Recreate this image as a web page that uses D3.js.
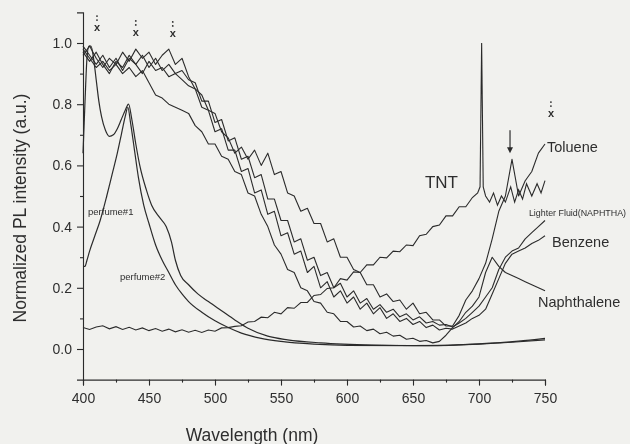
<!DOCTYPE html>
<html>
<head>
<meta charset="utf-8">
<script src="https://cdn.jsdelivr.net/npm/d3@7"></script>
<style>
body { margin: 0; background: #f1f1ee; }
svg { display: block; }
text { font-family: "Liberation Sans", Arial, sans-serif; fill: #2e2e2e; }
</style>
</head>
<body>
<svg width="630" height="444"></svg>
<script>
// wavelength grid shared by the four noisy liquid spectra
const wl = [400,405,410,415,420,425,430,435,440,445,450,455,460,465,470,475,480,485,490,495,
    500,505,510,515,520,525,530,535,540,545,550,555,560,565,570,575,580,585,590,595,
    600,605,610,615,620,625,630,635,640,645,650,655,660,665,670,675,680,685,690,695,
    700,705,710,715,720,725,730,735,740,745,750];

const toluene = [0.96,0.99,0.95,0.92,0.95,0.93,0.97,0.94,0.98,0.95,
    0.97,0.93,0.96,0.98,0.93,0.95,0.89,0.85,0.83,0.78,
    0.77,0.71,0.69,0.64,0.66,0.62,0.65,0.60,0.64,0.57,
    0.58,0.51,0.50,0.45,0.46,0.41,0.41,0.35,0.36,0.30,
    0.30,0.26,0.25,0.21,0.21,0.17,0.18,0.155,0.16,0.13,
    0.15,0.115,0.12,0.095,0.095,0.075,0.075,0.11,0.16,0.19,
    0.23,0.28,0.36,0.45,0.50,0.62,0.50,0.55,0.58,0.64,
    0.67];

const lighterFluid = [0.99,0.96,0.93,0.96,0.92,0.95,0.91,0.95,0.93,0.96,
    0.92,0.95,0.91,0.93,0.90,0.91,0.88,0.87,0.81,0.81,
    0.74,0.75,0.68,0.69,0.62,0.63,0.56,0.57,0.49,0.49,
    0.42,0.42,0.35,0.36,0.29,0.30,0.24,0.25,0.20,0.215,
    0.17,0.19,0.15,0.165,0.13,0.145,0.12,0.13,0.105,0.115,
    0.095,0.105,0.085,0.09,0.078,0.08,0.072,0.085,0.10,0.12,
    0.14,0.17,0.20,0.26,0.30,0.32,0.33,0.36,0.38,0.40,
    0.42];

const benzene = [0.97,0.94,0.97,0.93,0.90,0.94,0.92,0.96,0.93,0.90,
    0.94,0.91,0.92,0.89,0.90,0.88,0.86,0.85,0.79,0.78,
    0.71,0.72,0.65,0.65,0.58,0.59,0.51,0.52,0.44,0.45,
    0.37,0.38,0.31,0.32,0.25,0.27,0.20,0.22,0.17,0.19,
    0.15,0.17,0.13,0.15,0.115,0.135,0.10,0.115,0.09,0.10,
    0.08,0.09,0.07,0.078,0.062,0.068,0.065,0.075,0.085,0.10,
    0.11,0.13,0.18,0.23,0.28,0.31,0.32,0.33,0.345,0.355,
    0.37];

const naphthalene = [0.98,0.95,0.92,0.94,0.91,0.93,0.90,0.92,0.89,0.91,
    0.87,0.83,0.82,0.80,0.79,0.78,0.77,0.73,0.71,0.67,
    0.67,0.63,0.62,0.58,0.57,0.51,0.50,0.44,0.40,0.34,
    0.31,0.26,0.25,0.20,0.19,0.155,0.15,0.12,0.115,0.09,
    0.09,0.072,0.075,0.06,0.065,0.05,0.055,0.042,0.045,0.032,
    0.035,0.025,0.028,0.02,0.025,0.045,0.07,0.09,0.12,0.14,
    0.17,0.25,0.30,0.27,0.25,0.24,0.23,0.22,0.21,0.20,
    0.19];

// TNT has its own grid because of the narrow line near 702 nm
const tntWl = [400,405,410,415,420,425,430,435,440,445,450,455,460,465,470,475,480,485,490,495,
    500,505,510,515,520,525,530,535,540,545,550,555,560,565,570,575,580,585,590,595,
    600,605,610,615,620,625,630,635,640,645,650,655,660,665,670,675,680,685,690,695,
    699,700.8,702,703.2,705,708,711,714,717,720,724,727,730,733,736,740,744,747,750];
const tnt = [0.07,0.064,0.072,0.076,0.066,0.073,0.064,0.071,0.062,0.069,
    0.06,0.067,0.058,0.065,0.056,0.063,0.055,0.061,0.054,0.062,
    0.058,0.069,0.07,0.074,0.076,0.088,0.09,0.104,0.102,0.12,
    0.115,0.135,0.133,0.152,0.152,0.175,0.178,0.198,0.2,0.23,
    0.225,0.252,0.25,0.275,0.275,0.3,0.298,0.32,0.318,0.34,
    0.338,0.37,0.375,0.4,0.405,0.435,0.435,0.465,0.465,0.495,
    0.51,0.53,1.0,0.53,0.5,0.48,0.51,0.47,0.5,0.48,
    0.53,0.48,0.52,0.49,0.54,0.5,0.54,0.51,0.55];

const perfume1Wl = [400,401.5,403,405,409,413,418,422,426,429,432,434,436,439,442,446,450,455,460,465,
    470,475,480,490,500,510,520,535,550,575,600,650,700,725,750];
const perfume1 = [0.27,0.27,0.29,0.32,0.37,0.42,0.50,0.57,0.64,0.70,0.76,0.79,0.74,0.65,0.56,0.47,0.41,0.34,0.29,0.25,
    0.21,0.18,0.155,0.12,0.092,0.07,0.052,0.035,0.025,0.016,0.012,0.011,0.016,0.022,0.03];

const perfume2Wl = [400,401,402,403,404.5,406,408,410,412,414,417,420,423,426,429,432,434.5,437,440,443,
    448,452,458,463,467,470,474,480,487,495,505,515,525,540,555,580,620,660,700,730,750];
const perfume2 = [0.64,0.75,0.86,0.95,0.99,0.99,0.95,0.88,0.81,0.76,0.715,0.695,0.70,0.72,0.75,0.78,0.80,0.75,0.67,0.60,
    0.52,0.47,0.43,0.40,0.35,0.29,0.24,0.21,0.18,0.155,0.125,0.095,0.068,0.042,0.03,0.02,0.013,0.011,0.017,0.026,0.035];

const xTicks = [400,450,500,550,600,650,700,750];
const xMinor = [425,475,525,575,625,675,725];
const yTicks = [0.0,0.2,0.4,0.6,0.8,1.0];
const yMinor = [0.1,0.3,0.5,0.7,0.9];

const labels = [
    {text: "TNT", nm: 659, v: 0.526, size: 17},
    {text: "Toluene", nm: 751.5, v: 0.644, size: 14.5},
    {text: "Lighter Fluid(NAPHTHA)", nm: 737.8, v: 0.435, size: 8.9},
    {text: "Benzene", nm: 755.3, v: 0.333, size: 14.5},
    {text: "Naphthalene", nm: 744.7, v: 0.137, size: 14.5},
    {text: "perfume#1", nm: 403.8, v: 0.438, size: 9.5},
    {text: "perfume#2", nm: 428, v: 0.225, size: 9.5}
];
// dotted "x" markers above peaks
const markers = [{nm: 410.6, v: 1.039}, {nm: 440, v: 1.023}, {nm: 468, v: 1.02}, {nm: 754.5, v: 0.758}];
const arrow = {nm: 723.5, from: 0.715, to: 0.64};

const svg = d3.select("svg");
const margin = {top: 12.4, left: 83, right: 85, bottom: 64.4},
    width = svg.attr("width") - margin.left - margin.right,
    height = svg.attr("height") - margin.top - margin.bottom;

const x = d3.scaleLinear().domain([400, 750]).range([margin.left, margin.left + width]);
const y = d3.scaleLinear().domain([-0.1, 1.1]).range([margin.top + height, margin.top]);

svg.append("defs").append("filter").attr("id", "soft")
    .append("feGaussianBlur").attr("stdDeviation", 0.35);

const g = svg.append("g").attr("filter", "url(#soft)");

const ink = "#2b2b2b";

function pairs(xs, ys) { return xs.map((d, i) => [d, ys[i]]); }

const noisy = d3.line().x(d => x(d[0])).y(d => y(d[1]));
const smooth = d3.line().x(d => x(d[0])).y(d => y(d[1])).curve(d3.curveMonotoneX);

[toluene, lighterFluid, benzene, naphthalene].forEach(s => {
    g.append("path").datum(pairs(wl, s))
        .attr("d", noisy).attr("fill", "none")
        .attr("stroke", ink).attr("stroke-width", 1.1).attr("stroke-linejoin", "round");
});
g.append("path").datum(pairs(tntWl, tnt))
    .attr("d", noisy).attr("fill", "none")
    .attr("stroke", ink).attr("stroke-width", 1.1);
[[perfume1Wl, perfume1], [perfume2Wl, perfume2]].forEach(p => {
    g.append("path").datum(pairs(p[0], p[1]))
        .attr("d", smooth).attr("fill", "none")
        .attr("stroke", ink).attr("stroke-width", 1.2);
});

// axes
const xaxis = g.append("g")
    .attr("transform", "translate(0," + y(-0.1) + ")")
    .call(d3.axisBottom(x).tickValues(xTicks).tickSizeOuter(0).tickSize(6).tickPadding(7));
g.append("g")
    .attr("transform", "translate(0," + y(-0.1) + ")")
    .call(d3.axisBottom(x).tickValues(xMinor).tickSize(3).tickFormat(""))
    .call(a => a.select(".domain").remove());
const yaxis = g.append("g")
    .attr("transform", "translate(" + x(400) + ",0)")
    .call(d3.axisLeft(y).tickValues(yTicks).tickFormat(d3.format(".1f")).tickSizeOuter(0).tickSize(6).tickPadding(5));
g.append("g")
    .attr("transform", "translate(" + x(400) + ",0)")
    .call(d3.axisLeft(y).tickValues(yMinor).tickSize(3).tickFormat(""))
    .call(a => a.select(".domain").remove());

g.selectAll(".domain, .tick line").attr("stroke", ink).attr("stroke-width", 1.1);
g.selectAll(".tick text").attr("font-size", 14).attr("fill", "#333").attr("font-family", "Liberation Sans, Arial, sans-serif");

g.append("text")
    .attr("transform", "translate(26," + 208 + ") rotate(-90)")
    .attr("text-anchor", "middle").attr("font-size", 17.5)
    .text("Normalized PL intensity (a.u.)");
g.append("text")
    .attr("x", 252).attr("y", 441)
    .attr("text-anchor", "middle").attr("font-size", 17.5)
    .text("Wavelength (nm)");

g.selectAll(".lbl").data(labels).enter().append("text")
    .attr("x", d => x(d.nm)).attr("y", d => y(d.v))
    .attr("font-size", d => d.size)
    .text(d => d.text);

const mk = g.selectAll(".mk").data(markers).enter().append("g");
mk.append("text")
    .attr("x", d => x(d.nm)).attr("y", d => y(d.v))
    .attr("text-anchor", "middle").attr("font-size", 11).attr("font-weight", "bold")
    .text("x");
mk.append("circle").attr("cx", d => x(d.nm)).attr("cy", d => y(d.v) - 11).attr("r", 0.9).attr("fill", ink);
mk.append("circle").attr("cx", d => x(d.nm)).attr("cy", d => y(d.v) - 15).attr("r", 0.9).attr("fill", ink);

g.append("line")
    .attr("x1", x(arrow.nm)).attr("x2", x(arrow.nm))
    .attr("y1", y(arrow.from)).attr("y2", y(arrow.to) - 4)
    .attr("stroke", ink).attr("stroke-width", 1.2);
g.append("path")
    .attr("d", "M" + (x(arrow.nm) - 3) + "," + (y(arrow.to) - 6) + "L" + (x(arrow.nm) + 3) + "," + (y(arrow.to) - 6) + "L" + x(arrow.nm) + "," + y(arrow.to) + "Z")
    .attr("fill", ink);
</script>
</body>
</html>
